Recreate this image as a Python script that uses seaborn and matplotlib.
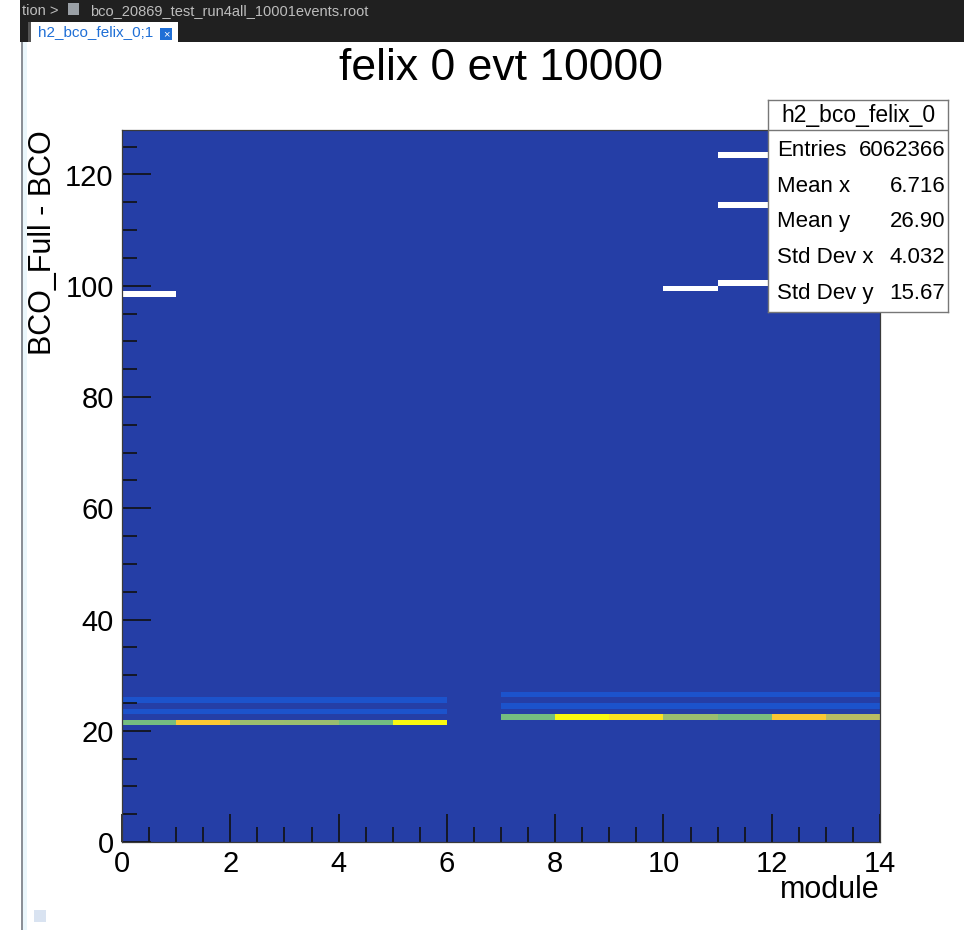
#!/usr/bin/env python3
# Redraw the felix 0 BCO difference map (module vs BCO_Full - BCO)

import matplotlib
matplotlib.use('Agg')
import matplotlib.pyplot as plt
from matplotlib.colors import LinearSegmentedColormap
from matplotlib.patches import Rectangle
from matplotlib.ticker import MultipleLocator
import numpy as np
import seaborn as sns
import pandas as pd

################
# Data

nModules = 14
nBcoBins = 128

# modules with hits and the BCO_Full - BCO bin of their main peak
peakModules = [0, 1, 2, 3, 4, 5, 7, 8, 9, 10, 11, 12, 13]
peakBins    = [21, 21, 21, 21, 21, 21, 22, 22, 22, 22, 22, 22, 22]
peakCounts  = [312000, 452000, 343000, 341000, 310000, 515000,
               311000, 514000, 487000, 343000, 316000, 452000, 368000]

# the two faint rows above each peak (peak + 2, peak + 4)
echoOffsets = [2, 4]
echoCounts  = [60000, 60000]

# bins above the z range (painted white)
hotModules = [0, 10, 11, 11, 11]
hotBins    = [98, 99, 100, 114, 123]
hotCounts  = [610000, 600000, 620000, 605000, 600000]

zMax = 520000

xTicks = [0, 2, 4, 6, 8, 10, 12, 14]
yTicks = [0, 20, 40, 60, 80, 100, 120]

statsTitle  = 'h2_bco_felix_0'
statsNames  = ['Entries', 'Mean x', 'Mean y', 'Std Dev x', 'Std Dev y']
statsValues = ['6062366', '6.716', '26.90', '4.032', '15.67']

# kBird-like palette, as it shows up on screen
birdStops = [(0.0, '#253ea6'), (0.125, '#1b55d0'), (0.25, '#1481d6'),
             (0.375, '#06a4ca'), (0.5, '#2eb7a4'), (0.625, '#87bf77'),
             (0.75, '#d1bb59'), (0.875, '#fec832'), (1.0, '#f9fb0e')]

################
# Helpers

W, H = 964, 930

def fx(px):
  return px / W

def fy(py):
  return 1 - py / H

def addRect(fig, x0, y0, x1, y1, color, **kw):
  fig.add_artist(Rectangle((fx(x0), fy(y1)), fx(x1) - fx(x0), fy(y0) - fy(y1),
                           transform=fig.transFigure, facecolor=color,
                           edgecolor='none', **kw))

def buildMatrix():
  z = np.zeros((nBcoBins, nModules))
  for m, b, c in zip(peakModules, peakBins, peakCounts):
    z[b, m] = c
    for off, ec in zip(echoOffsets, echoCounts):
      z[b + off, m] = ec
  for m, b, c in zip(hotModules, hotBins, hotCounts):
    z[b, m] = c
  return pd.DataFrame(z, index=range(nBcoBins), columns=range(nModules))

##########################

sns.set_style('ticks')
plt.rcParams['font.family'] = ['Liberation Sans', 'DejaVu Sans']
plt.rcParams['text.color'] = 'black'
plt.rcParams['axes.labelcolor'] = 'black'
plt.rcParams['xtick.labelcolor'] = 'black'
plt.rcParams['ytick.labelcolor'] = 'black'

fig = plt.figure(figsize=(W / 100, H / 100), dpi=100)
fig.patch.set_facecolor('white')

#### browser chrome around the canvas
addRect(fig, 20, 0, W, 42, '#202020')
addRect(fig, 28, 22, 178, 42, 'white')
addRect(fig, 28, 22, 31, 42, '#555555')
addRect(fig, 160, 28, 172, 40, '#1f6fd6')
addRect(fig, 21, 42, 23, H, '#8a8f96')
addRect(fig, 23, 42, 27, H, '#eaf6fb')
addRect(fig, 34, 910, 46, 922, '#d9e3f1')
fig.text(fx(22), fy(15), 'tion >', color='#bdbdbd', fontsize=10.5, va='baseline')
addRect(fig, 68, 3, 79, 15, '#9aa0a6')
fig.text(fx(90), fy(15), 'bco_20869_test_run4all_10001events.root',
         color='#bdbdbd', fontsize=10.5, va='baseline')
fig.text(fx(38), fy(32), 'h2_bco_felix_0;1', color='#1f6fd6', fontsize=11,
         va='center')
fig.text(fx(166), fy(34), '×', color='white', fontsize=8, ha='center',
         va='center')

#### the histogram
ax = fig.add_axes([fx(122), fy(842), fx(880) - fx(122), fy(130) - fy(842)])

cmap = LinearSegmentedColormap.from_list('bird', birdStops)
cmap.set_over('white')

sns.heatmap(buildMatrix(), ax=ax, cmap=cmap, vmin=0, vmax=zMax, cbar=False,
            xticklabels=False, yticklabels=False)

ax.set_axisbelow(False)
ax.set_xlim(0, nModules)
ax.set_ylim(0, nBcoBins)
for s in ax.spines.values():
  s.set_visible(True)
  s.set_color('#3a3a3a')
  s.set_linewidth(0.9)
  s.set_zorder(3)

ax.set_xticks(xTicks)
ax.set_xticklabels([str(v) for v in xTicks])
ax.set_yticks(yTicks)
ax.set_yticklabels([str(v) for v in yTicks])
ax.xaxis.set_minor_locator(MultipleLocator(0.5))
ax.yaxis.set_minor_locator(MultipleLocator(5))
ax.tick_params(which='both', direction='in', top=False, right=False,
               color='#111111', width=1.2)
ax.tick_params(which='major', labelsize=21, length=20, pad=6)
ax.tick_params(axis='y', which='major', length=21)
ax.tick_params(which='minor', length=10.5)

ax.set_xlabel('module', fontsize=22, loc='right')
ax.xaxis.set_label_coords(1.0, -0.047)
ax.set_ylabel('BCO_Full - BCO', fontsize=22, loc='top')
ax.yaxis.set_label_coords(-0.085, 1.0)

fig.text(fx(501), fy(68), 'felix 0 evt 10000', ha='center', va='center',
         fontsize=32)

#### stats box
sx = fig.add_axes([fx(768), fy(312), fx(948) - fx(768), fy(100) - fy(312)])
sx.set_facecolor('white')
sx.set_xlim(0, 1)
sx.set_ylim(0, 1)
sx.set_xticks([])
sx.set_yticks([])
for s in sx.spines.values():
  s.set_color('#777777')
  s.set_linewidth(1.0)
sx.axhline(0.858, color='#777777', lw=1.0)
sx.text(0.5, 0.929, statsTitle, ha='center', va='center', fontsize=16.5)
rowY = [0.764, 0.594, 0.425, 0.255, 0.085]
for y, name, val in zip(rowY, statsNames, statsValues):
  sx.text(0.05, y, name, ha='left', va='center', fontsize=16)
  sx.text(0.985, y, val, ha='right', va='center', fontsize=16)

fig.savefig('out.png', dpi=100)
